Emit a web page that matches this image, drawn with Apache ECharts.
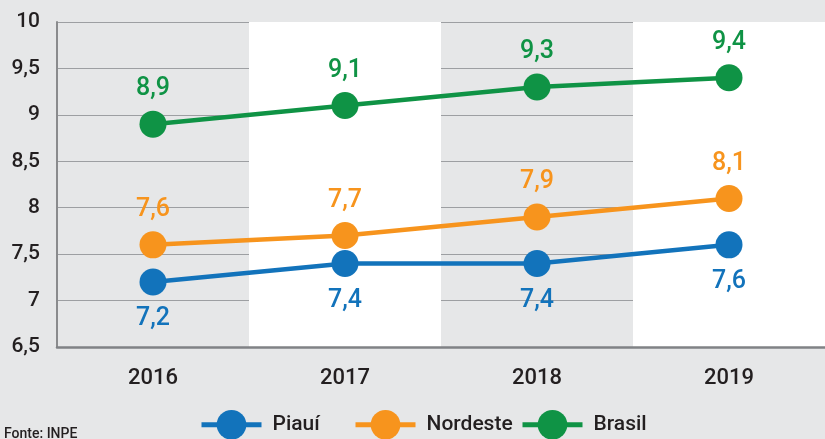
<!DOCTYPE html>
<html>
<head>
<meta charset="utf-8">
<script src="https://cdn.jsdelivr.net/npm/echarts@6/dist/echarts.min.js"></script>
<style>
  html, body { margin: 0; padding: 0; background: #e6e7e8; }
  #chart { width: 825px; height: 439px; }
</style>
</head>
<body>
<div id="chart"></div>
<script>
// dados
const anos = ['2016', '2017', '2018', '2019']
const piaui = [7.2, 7.4, 7.4, 7.6]
const nordeste = [7.6, 7.7, 7.9, 8.1]
const brasil = [8.9, 9.1, 9.3, 9.4]
const yTicks = { 6.5: '6,5', 7: '7', 7.5: '7,5', 8: '8', 8.5: '8,5', 9: '9', 9.5: '9,5', 10: '10' }

const font = 'Roboto'
const dark = '#231f20'

const chart = echarts.init(document.getElementById('chart'))

const virgula = v => String(v).replace('.', ',')

const serie = (name, data, color, pos) => ({
  name,
  type: 'line',
  data,
  symbol: 'circle',
  symbolSize: 27,
  itemStyle: { color },
  lineStyle: { color, width: 4.5 },
  label: {
    show: true,
    position: pos,
    distance: pos === 'top' ? 9 : 11,
    color,
    fontFamily: font,
    fontWeight: 500,
    fontSize: 25,
    formatter: p => virgula(p.value)
  },
  emphasis: { disabled: true },
  z: 3
})

const legenda = (name, left) => ({
  data: [name],
  left,
  top: 405,
  itemWidth: 60,
  itemHeight: 37,
  itemGap: 0,
  lineStyle: { width: 5 },
  textStyle: { color: dark, fontFamily: font, fontWeight: 500, fontSize: 21, padding: [0, 0, 0, 6] }
})

chart.setOption({
  backgroundColor: '#e6e7e8',
  animation: false,
  grid: { left: 57, right: -12, top: 22, bottom: 92 },
  legend: [
    legenda('Piauí', 194),
    legenda('Nordeste', 348),
    legenda('Brasil', 515)
  ],
  graphic: [{
    type: 'text',
    left: 4,
    top: 427,
    style: { text: 'Fonte: INPE', fill: dark, font: '500 14px Roboto' }
  }],
  xAxis: {
    type: 'category',
    data: anos,
    axisLine: { lineStyle: { color: '#808285', width: 2.5 } },
    axisTick: { show: false },
    axisLabel: { color: dark, fontFamily: font, fontWeight: 500, fontSize: 22, margin: 20 },
    splitArea: { show: true, areaStyle: { color: ['rgba(0,0,0,0)', '#ffffff'] } }
  },
  yAxis: {
    type: 'value',
    min: 6.5,
    max: 10,
    interval: 0.5,
    axisLine: { show: true, lineStyle: { color: '#8a8b8d', width: 2 } },
    axisTick: { show: false },
    axisLabel: { color: dark, fontFamily: font, fontWeight: 500, fontSize: 21, margin: 17, formatter: v => yTicks[v] },
    splitLine: { lineStyle: { color: '#9d9fa2', width: 1 } }
  },
  series: [
    serie('Piauí', piaui, '#1273bb', 'bottom'),
    serie('Nordeste', nordeste, '#f7941d', 'top'),
    serie('Brasil', brasil, '#0f9345', 'top')
  ]
})
</script>
</body>
</html>
